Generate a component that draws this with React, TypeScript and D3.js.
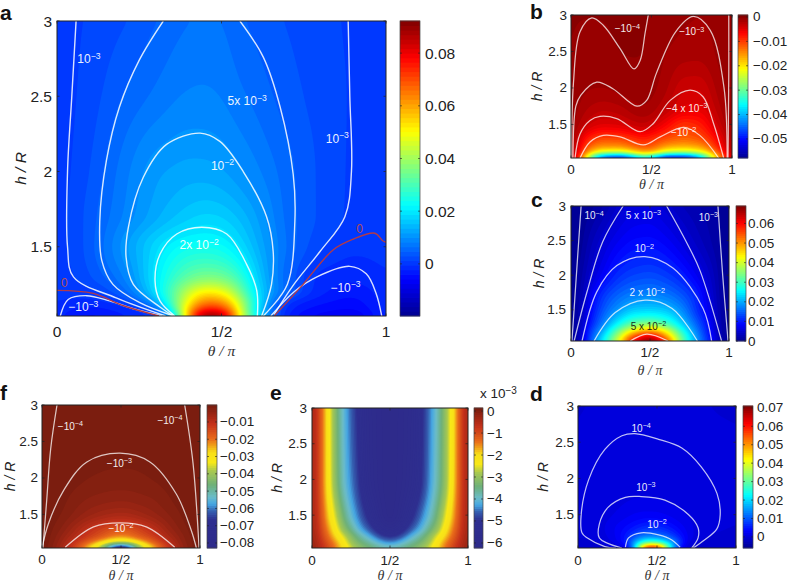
import React from "react";
import * as d3 from "d3";

// ---------- shared axes ----------
const hRows = [3, 2.5, 2, 1.7, 1.5, 1.3, 1.2, 1.12, 1.08, 1.04];
const xTicks = [0, 0.5, 1];
const xTickLabels = ["0", "1/2", "1"];
const yTicks = [1.5, 2, 2.5, 3];

// ---------- panel a (values x 1e-3) ----------
const aTheta = [0, .05, .1, .2, .3, .35, .4, .45, .5, .55, .6, .7, .8, .9, 1];
const aValues = [
  [.4, .9, 1.4, 2.7, 4.6, 5.6, 6.4, 6.8, 6.5, 5.2, 4.2, 2.8, 1.8, .9, .4],
  [.4, 1.0, 2.0, 4.8, 6.9, 7.9, 8.5, 8.6, 8.2, 7.0, 6.0, 3.8, 2.2, 1.0, .4],
  [.4, 1.3, 3.0, 7.3, 11.2, 12, 12.6, 12.6, 12, 10.6, 8.9, 5.4, 2.6, .9, .4],
  [.3, 1.7, 3.8, 8.3, 13, 15, 16.5, 17.5, 17, 15, 12.2, 5.8, 2.6, .8, .3],
  [.3, 1.6, 3.9, 10.5, 18, 21.5, 23.5, 24, 23, 19.5, 14.5, 6.2, 1.5, -.2, -.1],
  [.3, 1, 2.8, 8, 20, 27, 33, 36, 35, 29, 18.5, 5, -1.1, -1.8, -.6],
  [-.1, .1, .5, 5, 19, 31, 44, 52, 50, 38, 21, 5, -1.7, -3.5, -1.1],
  [-.5, -1.3, -1.5, .1, 10, 30, 52, 68, 66, 48, 24, -.8, -4, -5, -1],
  [-1, -2.6, -3.2, -1.4, 2.5, 24, 58, 78, 76, 52, 22, -1.5, -5, -6, -1.2],
  [-1, -4, -5, -3, -.2, 10, 62, 96, 94, 55, 26, -3, -7, -8, -1.2],
];
const aLines: [number, number][][] = [
  [[.058, 3], [.045, 2.5], [.032, 2], [.032, 1.5], [.05, 1.3], [.18, 1.16], [.33, 1.04]],
  [[.885, 3], [.89, 2.5], [.895, 2], [.875, 1.7], [.80, 1.47], [.72, 1.25], [.66, 1.05]],
  [[.323, 3], [.25, 2.74], [.19, 2.43], [.15, 2.07], [.13, 1.67], [.136, 1.41], [.17, 1.25], [.25, 1.13], [.354, 1.04]],
  [[.556, 3], [.627, 2.76], [.678, 2.43], [.718, 1.98], [.723, 1.67], [.70, 1.25], [.627, 1.04]],
  [[.354, 1.04], [.313, 1.10], [.232, 1.25], [.21, 1.43], [.217, 1.63], [.262, 1.96], [.333, 2.18], [.435, 2.255], [.495, 2.2], [.566, 2], [.637, 1.7], [.657, 1.47], [.652, 1.25], [.622, 1.04]],
  [[.358, 1.04], [.313, 1.14], [.298, 1.275], [.313, 1.45], [.364, 1.585], [.44, 1.63], [.516, 1.585], [.576, 1.385], [.607, 1.21], [.609, 1.04]],
  [[.01, 1.04], [.034, 1.15], [.09, 1.175], [.16, 1.14], [.23, 1.09], [.32, 1.04]],
  [[.65, 1.04], [.72, 1.2], [.79, 1.30], [.89, 1.37], [.94, 1.32], [.97, 1.19], [.987, 1.04]],
];
const aZeroLines: [number, number][][] = [
  [[0, 1.21], [.11, 1.19], [.2, 1.11], [.31, 1.04]],
  [[.66, 1.04], [.74, 1.23], [.84, 1.48], [.90, 1.55], [.966, 1.59], [.99, 1.54], [1, 1.53]],
];
const aLabels: [string, string, number, number, string][] = [
  ["10", "−3", .097, 2.75, "#fff"], ["5x 10", "−3", .578, 2.47, "#fff"], ["10", "−3", .852, 2.22, "#fff"],
  ["10", "−2", .503, 2.04, "#fff"], ["2x 10", "−2", .432, 1.51, "#fff"], ["0", "", .92, 1.62, "#c0504d"],
  ["0", "", .022, 1.26, "#c0504d"], ["−10", "−3", .08, 1.1, "#fff"], ["−10", "−3", .877, 1.23, "#fff"],
];
const aBarTicks = [0, .02, .04, .06, .08];
const aBarLabels = ["0", "0.02", "0.04", "0.06", "0.08"];

// ---------- panel b ----------
const bTheta = [0, .05, .1, .2, .3, .4, .45, .5, .55, .6, .7, .8, .9, 1];
const bValues = [
  [-.05, -.08, -.1, -.09, -.06, -.06, -.09, -.11, -.2, -.35, -.8, -1, -.7, -.06],
  [-.05, -.3, -.3, -.25, -.11, -.09, -.11, -.3, -.7, -1.05, -1.5, -1.6, -.95, -.05],
  [-.05, -.6, -.95, -1.05, -.75, -.5, -.5, -.7, -1.2, -1.9, -3.6, -3.7, -1.8, -.05],
  [-.1, -1.2, -2, -2.8, -2.4, -1.4, -1.2, -1.5, -2.4, -3.3, -5.2, -5.4, -2.8, -.1],
  [-.2, -2, -3.5, -4.8, -4.5, -3.3, -3, -3.7, -5, -6.5, -9.2, -8, -4.2, -.2],
  [-.5, -4, -8, -10.8, -10.6, -8.8, -8, -8.8, -10.2, -11.2, -12.5, -11.3, -7, -.6],
  [-.8, -5, -11, -15, -15, -12, -11, -11.5, -14, -16, -17, -15.5, -9, -.8],
  [-1, -6, -15, -24, -25, -20, -17, -18, -22, -25, -26, -23, -13, -1],
  [-1.5, -8, -20, -36, -38, -30, -26, -28, -34, -39, -40, -33, -17, -1.5],
  [-2, -9, -25, -52, -58, -50, -44, -46, -54, -59, -58, -47, -20, -2],
];
const bLines: [number, number][][] = [
  [[.004, 1.04], [.015, 2.06], [.056, 2.77], [.129, 2.96], [.2, 2.86], [.305, 2.54], [.392, 2.26], [.43, 2.38], [.46, 2.75], [.48, 3]],
  [[.98, 3], [.98, 2.2], [.975, 1.04]],
  [[.012, 1.04], [.03, 1.75], [.06, 1.9], [.16, 2.08], [.26, 1.99], [.41, 1.75], [.47, 1.83], [.53, 2.2], [.65, 2.77], [.76, 2.98], [.865, 2.79], [.95, 2.01], [.97, 1.04]],
  [[.025, 1.04], [.056, 1.37], [.118, 1.555], [.18, 1.61], [.284, 1.58], [.43, 1.40], [.51, 1.51], [.616, 1.83], [.74, 1.97], [.82, 1.88], [.886, 1.51], [.948, 1.04]],
  [[.056, 1.04], [.118, 1.26], [.2, 1.35], [.305, 1.33], [.45, 1.22], [.554, 1.33], [.7, 1.46], [.8, 1.35], [.917, 1.04]],
];
const bLabels: [string, string, number, number, string][] = [
  ["−10", "−4", .35, 2.81, "#fff"], ["−10", "−3", .75, 2.77, "#fff"], ["−4 x 10", "−3", .72, 1.72, "#fff"], ["−10", "−2", .70, 1.39, "#fff"],
];
const bBarTicks = [0, -.01, -.02, -.03, -.04, -.05];
const bBarLabels = ["0", "−0.01", "−0.02", "−0.03", "−0.04", "−0.05"];

// ---------- panel c ----------
const cTheta = [0, .05, .1, .2, .3, .4, .5, .6, .7, .8, .9, .95, 1];
const cValues = [
  [.02, .07, .4, 2, 4.5, 6.0, 6.2, 4.8, 3.2, 2.2, 1.4, .8, .05],
  [.03, .15, 2, 5, 7.5, 8.8, 9, 8, 6, 3.8, 1.9, 1, .06],
  [.05, 1, 3.8, 8, 11.5, 13, 13.5, 12.5, 10.5, 7.3, 3.5, 1.3, .1],
  [.05, 1.5, 5.5, 12, 15.5, 17.5, 18, 17, 14.5, 10.5, 4.5, 1.4, .1],
  [.06, 2, 6.5, 14, 19, 22.5, 23, 22, 18, 11.5, 5.5, 1.5, .1],
  [.08, 2.2, 8, 17, 26, 33, 35, 31, 23, 14.5, 6.5, 1.8, .1],
  [.1, 2.5, 9.5, 20, 33, 44, 49, 42, 28, 16.5, 7, 2, .1],
  [.1, 2.7, 10, 23, 38, 55, 62, 50, 32, 18, 7.5, 2.2, .1],
  [.1, 2.8, 10.5, 24, 40, 59, 66, 54, 33, 18.5, 8, 2.3, .1],
  [.1, 2.8, 11, 25, 42, 62, 70, 58, 34, 19, 8, 2.3, .1],
];
const cLines: [number, number][][] = [
  [[.064, 3], [.04, 2.2], [.006, 1.05]],
  [[.33, 3], [.2, 2.48], [.10, 1.75], [.02, 1.05]],
  [[.605, 3], [.73, 2.48], [.816, 2.07], [.953, 1.05]],
  [[.93, 3], [.96, 2], [.994, 1.05]],
  [[.07, 1.05], [.163, 1.76], [.29, 2.14], [.468, 2.27], [.647, 2.1], [.836, 1.52], [.89, 1.05]],
  [[.146, 1.05], [.28, 1.46], [.468, 1.64], [.64, 1.52], [.8, 1.05]],
  [[.375, 1.05], [.48, 1.15], [.614, 1.05]],
];
const cLabels: [string, string, number, number, string][] = [
  ["10", "−4", .146, 2.86, "#fff"], ["5 x 10", "−3", .458, 2.87, "#fff"], ["10", "−3", .87, 2.84, "#fff"],
  ["10", "−2", .464, 2.38, "#fff"], ["2 x 10", "−2", .483, 1.75, "#fff"], ["5 x 10", "−2", .49, 1.26, "#111"],
];
const cBarTicks = [0, .01, .02, .03, .04, .05, .06];
const cBarLabels = ["0", "0.01", "0.02", "0.03", "0.04", "0.05", "0.06"];

// ---------- panel f ----------
const fTheta = [0, .05, .1, .2, .3, .4, .45, .5, .55, .6, .7, .8, .9, .95, 1];
const fValues = [
  [-.03, -.06, -.1, -.2, -.28, -.33, -.34, -.34, -.34, -.32, -.26, -.18, -.1, -.06, -.03],
  [-.05, -.1, -.2, -.42, -.6, -.72, -.75, -.76, -.75, -.7, -.55, -.35, -.15, -.08, -.04],
  [-.06, -.15, -.4, -1, -1.5, -1.8, -1.9, -1.9, -1.9, -1.8, -1.4, -.9, -.3, -.12, -.05],
  [-.08, -.25, -.7, -2, -3, -3.6, -3.8, -3.9, -3.8, -3.5, -2.9, -1.7, -.6, -.2, -.06],
  [-.1, -.6, -1.2, -3, -5, -6.5, -7, -7.2, -7, -6.3, -4.6, -2.8, -1.1, -.4, -.08],
  [-.12, -1.1, -2.2, -6, -10.5, -14, -16, -16.5, -16, -14, -10, -5, -1.9, -.9, -.1],
  [-.15, -1.3, -3.2, -8, -13, -18, -21, -22, -21, -18, -13, -7, -2.7, -1.1, -.12],
  [-.2, -1.6, -4, -10.5, -19, -30, -36, -38, -36, -30, -18.5, -9.5, -3.2, -1.3, -.15],
  [-.2, -1.8, -4.5, -12, -24, -40, -52, -56, -52, -40, -23, -11, -3.6, -1.5, -.2],
  [-.25, -2, -5, -13, -28, -50, -76, -86, -76, -50, -27, -12, -4, -1.6, -.2],
];
const fLines: [number, number][][] = [
  [[.095, 3], [.055, 2.4], [.03, 1.7], [.006, 1.04]],
  [[.903, 3], [.956, 2.2], [.994, 1.04]],
  [[0, 1.04], [.04, 1.37], [.137, 1.83], [.284, 2.22], [.494, 2.34], [.683, 2.22], [.85, 1.78], [.945, 1.28], [.977, 1.04]],
  [[.147, 1.05], [.326, 1.33], [.494, 1.385], [.66, 1.33], [.84, 1.05]],
];
const fLabels: [string, string, number, number, string][] = [
  ["−10", "−4", .18, 2.71, "#fff"], ["−10", "−4", .81, 2.79, "#fff"], ["−10", "−3", .49, 2.2, "#fff"], ["−10", "−2", .5, 1.31, "#fff"],
];
const fBarTicks = [-.01, -.02, -.03, -.04, -.05, -.06, -.07, -.08];
const fBarLabels = ["−0.01", "−0.02", "−0.03", "−0.04", "−0.05", "−0.06", "−0.07", "−0.08"];

// ---------- panel e ----------
const eTheta = [0, .05, .1, .15, .2, .25, .3, .35, .5, .65, .7, .75, .8, .85, .9, .95, 1];
const eHeights = [3, 2, 1.5, 1.3, 1.2, 1.12, 1.04];
const eValues = [
  [-.2, -1, -2.1, -3.2, -4, -4.6, -5.1, -5.6, -6, -5.6, -5.1, -4.5, -3.9, -3.1, -2.2, -1, -.2],
  [-.2, -1, -2.1, -3.1, -3.9, -4.4, -4.9, -5.5, -6, -5.5, -5, -4.4, -3.8, -3.1, -2.1, -1, -.2],
  [-.2, -.9, -1.8, -2.6, -3.4, -4, -4.5, -5, -6, -5, -4.5, -4, -3.4, -2.6, -1.8, -.9, -.2],
  [-.2, -.8, -1.5, -2.2, -3, -3.5, -4.1, -4.5, -5.6, -4.5, -4.1, -3.5, -3, -2.2, -1.5, -.8, -.2],
  [-.15, -.7, -1.3, -1.9, -2.5, -3.1, -3.6, -4, -5, -4, -3.6, -3.1, -2.5, -1.9, -1.3, -.7, -.15],
  [-.15, -.6, -1.1, -1.6, -2.2, -2.9, -3.3, -3.6, -4.4, -3.6, -3.3, -2.9, -2.2, -1.6, -1.1, -.6, -.15],
  [-.1, -.5, -.9, -1.4, -2, -2.5, -3, -3.2, -3.7, -3.2, -3, -2.5, -2, -1.4, -.9, -.5, -.1],
];
const eBarTicks = [0, -1, -2, -3, -4, -5, -6];
const eBarLabels = ["0", "−1", "−2", "−3", "−4", "−5", "−6"];

// ---------- panel d ----------
const dTheta = [0, .1, .2, .3, .35, .4, .45, .5, .55, .6, .65, .7, .8, .9, 1];
const dValues = [
  [.01, .02, .03, .04, .05, .05, .05, .05, .05, .04, .04, .03, .02, .01, .01],
  [.02, .05, .08, .11, .12, .12, .12, .11, .1, .1, .09, .08, .05, .03, .02],
  [.05, .12, .22, .32, .36, .4, .4, .38, .36, .32, .3, .25, .15, .06, .03],
  [.06, .2, .6, 1.1, 1.3, 1.4, 1.4, 1.3, 1.15, 1, .9, .7, .3, .1, .04],
  [.09, .3, 1, 2, 2.5, 2.8, 2.9, 2.8, 2.5, 2, 1.5, 1.05, .4, .1, .05],
  [.05, .3, 1.8, 4, 5.5, 7, 8, 7.5, 6.5, 5, 3.3, 1.8, .3, .05, -.02],
  [.02, .2, 1.5, 5, 9, 12.5, 14, 13, 11.5, 8.5, 5, 2, .1, -.1, -.1],
  [-.1, -.1, .8, 5, 14, 24, 30, 29, 23, 15, 7, 1, -.3, -.2, -.1],
  [-.2, -.3, .1, 3, 15, 34, 45, 44, 33, 17, 6, .2, -.5, -.3, -.2],
  [-.3, -.5, -.5, .8, 12, 52, 74, 72, 48, 16, 3, -.8, -.8, -.5, -.3],
];
const dLines: [number, number][][] = [
  [[.24, 1.04], [.17, 1.06], [.057, 1.18], [.025, 1.25], [.02, 1.5], [.067, 1.98], [.17, 2.4], [.278, 2.59], [.36, 2.62], [.51, 2.54], [.657, 2.42], [.78, 2.16], [.88, 1.79], [.9, 1.5], [.878, 1.3], [.8, 1.15], [.73, 1.04]],
  [[.278, 1.04], [.135, 1.18], [.135, 1.37], [.19, 1.6], [.3, 1.74], [.4, 1.75], [.55, 1.7], [.7, 1.5], [.76, 1.32], [.76, 1.18], [.72, 1.04]],
  [[.3, 1.05], [.32, 1.18], [.4, 1.25], [.51, 1.22], [.594, 1.15], [.646, 1.05]],
];
const dLabels: [string, string, number, number, string][] = [
  ["10", "−4", .4, 2.69, "#fff"], ["10", "−3", .43, 1.88, "#fff"], ["10", "−2", .5, 1.37, "#fff"],
];
const dBarTicks = [0, .01, .02, .03, .04, .05, .06, .07];
const dBarLabels = ["0", "0.01", "0.02", "0.03", "0.04", "0.05", "0.06", "0.07"];

// ---------- colour maps ----------
const jet = d3.scaleLinear<string>()
  .domain([0, .125, .375, .625, .875, 1])
  .range(["#000090", "#0000ff", "#00ffff", "#ffff00", "#ff0000", "#800000"])
  .interpolate(d3.interpolateRgb);
const muted = d3.scaleLinear<string>()
  .domain([0, .2, .26, .31, .36, .44, .54, .6, .67, .76, .87, 1])
  .range(["#2e2a8a", "#2e2f90", "#3560b0", "#46a8e4", "#6cbcc8", "#6db07a", "#a8c850", "#f8e818", "#f8e018", "#ea6e1a", "#c4301a", "#761c0e"])
  .interpolate(d3.interpolateRgb);

const SANS = "'Liberation Sans', Arial, sans-serif";
const SERIF = "'Liberation Serif', serif";

// monotone piecewise cubic, drawn between the values read at the grid nodes
function pchip(xs: number[], ys: number[], x: number) {
  const n = xs.length;
  const k = Math.max(0, Math.min(n - 2, d3.bisectRight(xs, x) - 1));
  const slope = (i: number) => (ys[i + 1] - ys[i]) / (xs[i + 1] - xs[i]);
  const tangent = (i: number) => {
    if (i === 0) return slope(0);
    if (i === n - 1) return slope(n - 2);
    const a = slope(i - 1), b = slope(i);
    if (a * b <= 0) return 0;
    const w1 = 2 * (xs[i + 1] - xs[i]) + (xs[i] - xs[i - 1]);
    const w2 = (xs[i + 1] - xs[i]) + 2 * (xs[i] - xs[i - 1]);
    return (w1 + w2) / (w1 / a + w2 / b);
  };
  const h = xs[k + 1] - xs[k], t = (x - xs[k]) / h;
  const t2 = t * t, t3 = t2 * t;
  return (2 * t3 - 3 * t2 + 1) * ys[k] + (t3 - 2 * t2 + t) * h * tangent(k)
    + (-2 * t3 + 3 * t2) * ys[k + 1] + (t3 - t2) * h * tangent(k + 1);
}

type PanelProps = {
  letter: string; lx: number; ly: number;
  x0: number; x1: number; y0: number; y1: number;
  bx0: number; bx1: number;
  hMin: number; dom: [number, number];
  theta: number[]; heights: number[]; values: number[][]; unit: number;
  colors: (t: number) => string;
  lines?: [number, number][][]; redLines?: [number, number][][];
  labels?: [string, string, number, number, string][];
  barTicks: number[]; barLabels: string[];
  font: number; labelFont: number;
  xTickY: number; xLabelY: number; yLabelX: number; yTickX: number; barLabelX: number;
  lineW: number; lineOp: number; axisFont: number;
};

function Panel(p: PanelProps) {
  const x = d3.scaleLinear().domain([0, 1]).range([p.x0, p.x1]);
  const y = d3.scaleLinear().domain([p.hMin, 3]).range([p.y1, p.y0]);
  const bar = d3.scaleLinear().domain(p.dom).range([p.y1, p.y0]);
  const w = p.x1 - p.x0, h = p.y1 - p.y0;
  const nx = Math.round(w / 1.5), ny = Math.round(h / 1.5);
  const ascH = [...p.heights].reverse();
  const rows = [...p.values].reverse();
  const field = new Float64Array(nx * ny);
  for (let j = 0; j < ny; j++) {
    const hv = 3 - ((j + .5) / ny) * (3 - p.hMin);
    for (let i = 0; i < nx; i++) {
      const tv = (i + .5) / nx;
      const col = rows.map((r) => pchip(p.theta, r, tv));
      field[j * nx + i] = pchip(ascH, col, hv) * p.unit;
    }
  }
  d3.blur2({ data: field as any, width: nx, height: ny }, nx * .02, ny * .008);
  const BANDS = 64;
  const span = p.dom[1] - p.dom[0];
  const levels = d3.range(1, BANDS).map((k) => p.dom[0] + (k / BANDS) * span);
  const bands = d3.contours().size([nx, ny]).smooth(true).thresholds(levels)(field as any);
  const path = d3.geoPath();
  const line = d3.line<[number, number]>().x((d) => x(d[0])).y((d) => y(d[1])).curve(d3.curveCatmullRom.alpha(.5));
  const id = "clip-" + p.letter;
  const ticks = d3.range(BANDS);
  const frame = "#222";
  return (
    <g>
      <defs><clipPath id={id}><rect x={p.x0} y={p.y0} width={w} height={h} /></clipPath></defs>
      <rect x={p.x0} y={p.y0} width={w} height={h} fill={p.colors(.5 / BANDS)} />
      <g transform={`translate(${p.x0},${p.y0}) scale(${w / nx},${h / ny})`}>
        {bands.map((b, k) => (
          <path key={k} d={path(b as any) || ""} fill={p.colors((k + 1.5) / BANDS)} />
        ))}
      </g>
      <g clipPath={`url(#${id})`} fill="none">
        {(p.lines || []).map((l, i) => (
          <path key={i} d={line(l) || ""} stroke="#fff" strokeOpacity={p.lineOp} strokeWidth={p.lineW} />
        ))}
        {(p.redLines || []).map((l, i) => (
          <path key={i} d={line(l) || ""} stroke="#b23a48" strokeWidth={p.lineW} />
        ))}
      </g>
      {(p.labels || []).map(([t, s, a, b, c], i) => (
        <text key={i} x={x(a)} y={y(b) + p.labelFont * .35} textAnchor="middle" fill={c} fontFamily={SANS} fontSize={p.labelFont} opacity={.92}>
          {t}{s && <tspan dy={-p.labelFont * .35} fontSize={p.labelFont * .72}>{s}</tspan>}
        </text>
      ))}
      <rect x={p.x0} y={p.y0} width={w} height={h} fill="none" stroke={frame} strokeWidth={1} />
      {xTicks.map((t) => (
        <g key={t} stroke={frame} strokeWidth={.7}>
          <line x1={x(t)} x2={x(t)} y1={p.y1} y2={p.y1 - 2.5} />
          <line x1={x(t)} x2={x(t)} y1={p.y0} y2={p.y0 + 2.5} />
        </g>
      ))}
      {yTicks.map((t) => (
        <g key={t} stroke={frame} strokeWidth={.7}>
          <line x1={p.x0} x2={p.x0 + 2.5} y1={y(t)} y2={y(t)} />
          <line x1={p.x1} x2={p.x1 - 2.5} y1={y(t)} y2={y(t)} />
        </g>
      ))}
      {xTicks.map((t, i) => (
        <text key={t} x={x(t)} y={p.xTickY} textAnchor="middle" dominantBaseline="central" fontFamily={SANS} fontSize={p.font} fill="#222">{xTickLabels[i]}</text>
      ))}
      {yTicks.map((t) => (
        <text key={t} x={p.yTickX} y={y(t)} textAnchor="end" dominantBaseline="central" fontFamily={SANS} fontSize={p.font} fill="#222">{t}</text>
      ))}
      <text x={(p.x0 + p.x1) / 2} y={p.xLabelY} textAnchor="middle" dominantBaseline="central" fontFamily={SERIF} fontStyle="italic" fontSize={p.axisFont} fill="#333">θ / π</text>
      <text transform={`translate(${p.yLabelX},${(p.y0 + p.y1) / 2}) rotate(-90)`} textAnchor="middle" dominantBaseline="central" fontFamily={SANS} fontStyle="italic" fontSize={p.axisFont} fill="#222">h / R</text>
      <text x={p.lx} y={p.ly} fontFamily={SANS} fontWeight="bold" fontSize={21} fill="#111">{p.letter}</text>
      {ticks.map((k) => (
        <rect key={k} x={p.bx0} width={p.bx1 - p.bx0}
          y={p.y1 - ((k + 1) / BANDS) * h - .4} height={h / BANDS + .8}
          fill={p.colors((k + .5) / BANDS)} />
      ))}
      <rect x={p.bx0} y={p.y0} width={p.bx1 - p.bx0} height={h} fill="none" stroke="#444" strokeWidth={.7} />
      {p.barTicks.map((t, i) => (
        <g key={t}>
          <line x1={p.bx0} x2={p.bx0 + 2} y1={bar(t)} y2={bar(t)} stroke="#222" strokeWidth={.6} />
          <line x1={p.bx1} x2={p.bx1 - 2} y1={bar(t)} y2={bar(t)} stroke="#222" strokeWidth={.6} />
          <text x={p.barLabelX} y={bar(t)} dominantBaseline="central" fontFamily={SANS} fontSize={p.font} fill="#222">{p.barLabels[i]}</text>
        </g>
      ))}
    </g>
  );
}

const small = { font: 13.5, labelFont: 10, lineW: 1.25, lineOp: .75, axisFont: 14 };

export default function App() {
  return (
    <svg width={788} height={584} viewBox="0 0 788 584"
      style={{ position: "absolute", left: 0, top: 0, display: "block", background: "#fff" }}>
      <Panel letter="a" lx={0} ly={20} x0={57} x1={386} y0={21} y1={316} bx0={400} bx1={420}
        hMin={1.04} dom={[-.0198, .0922]} theta={aTheta} heights={hRows} values={aValues} unit={1e-3}
        colors={jet} lines={aLines} redLines={aZeroLines} labels={aLabels}
        barTicks={aBarTicks} barLabels={aBarLabels}
        font={15.5} labelFont={12} lineW={1.4} lineOp={.85} axisFont={15.5}
        xTickY={331} xLabelY={350} yLabelX={20} yTickX={52} barLabelX={425} />
      <Panel letter="b" lx={530} ly={19} x0={571} x1={732} y0={15} y1={158} bx0={738} bx1={748}
        hMin={1.04} dom={[-.0578, .0008]} theta={bTheta} heights={hRows} values={bValues} unit={1e-3}
        colors={jet} lines={bLines} labels={bLabels} barTicks={bBarTicks} barLabels={bBarLabels}
        {...small} xTickY={169} xLabelY={184} yLabelX={537} yTickX={567} barLabelX={753} />
      <Panel letter="c" lx={531} ly={207} x0={571} x1={729} y0={206} y1={341} bx0={736} bx1={746}
        hMin={1.05} dom={[0, .0689]} theta={cTheta} heights={[3, 2.5, 2, 1.7, 1.5, 1.3, 1.2, 1.12, 1.08, 1.05]} values={cValues} unit={1e-3}
        colors={jet} lines={cLines} labels={cLabels} barTicks={cBarTicks} barLabels={cBarLabels}
        {...small} xTickY={352} xLabelY={370} yLabelX={539} yTickX={566} barLabelX={748} />
      <Panel letter="f" lx={0} ly={400} x0={42} x1={200} y0={405} y1={548} bx0={207} bx1={217}
        hMin={1.04} dom={[-.0829, -.0002]} theta={fTheta} heights={hRows} values={fValues} unit={1e-3}
        colors={muted} lines={fLines} labels={fLabels} barTicks={fBarTicks} barLabels={fBarLabels}
        {...small} xTickY={559} xLabelY={575} yLabelX={10} yTickX={38} barLabelX={220} />
      <Panel letter="e" lx={270} ly={400} x0={312} x1={468} y0={408} y1={548} bx0={474} bx1={483}
        hMin={1.04} dom={[-6.23, .14]} theta={eTheta} heights={eHeights} values={eValues} unit={1}
        colors={muted} barTicks={eBarTicks} barLabels={eBarLabels}
        {...small} xTickY={560} xLabelY={575} yLabelX={277} yTickX={307} barLabelX={487} />
      <text x={480} y={398} fontFamily={SANS} fontSize={13.5} fill="#222">x 10<tspan dy={-4} fontSize={10}>−3</tspan></text>
      <Panel letter="d" lx={530} ly={401} x0={578} x1={736} y0={406} y1={548} bx0={743} bx1={753}
        hMin={1.04} dom={[-.006, .071]} theta={dTheta} heights={hRows} values={dValues} unit={1e-3}
        colors={jet} lines={dLines} labels={dLabels} barTicks={dBarTicks} barLabels={dBarLabels}
        {...small} xTickY={560} xLabelY={575} yLabelX={543} yTickX={574} barLabelX={757} />
    </svg>
  );
}
